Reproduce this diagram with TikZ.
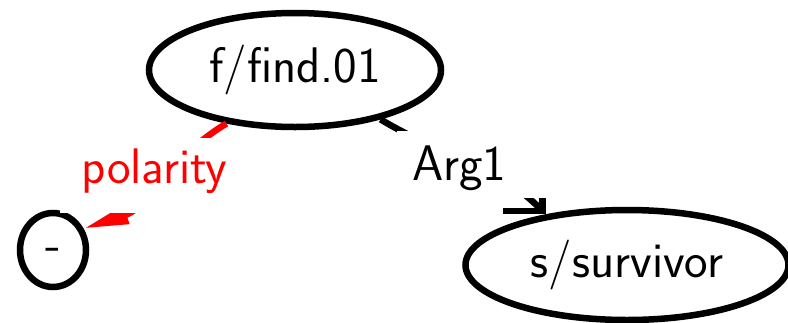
\documentclass[tikz,border=0pt]{standalone}
\usetikzlibrary{arrows.meta,shapes.geometric}
\begin{document}
\begin{tikzpicture}[
  every node/.style={font=\fontsize{50}{60}\selectfont\sffamily},
  amrnode/.style={draw, ellipse, line width=6.5pt, inner sep=0pt, fill=white},
  edgelabel/.style={fill=white, inner xsep=15pt, inner ysep=8pt},
  edgeline/.style={line width=6.5pt},
]
\useasboundingbox (0,0) rectangle (788pt,-322pt);
\node[amrnode, minimum width=292pt, minimum height=114pt] (find) at (295pt,-70pt) {f/find.01};
\node[amrnode, minimum width=66pt, minimum height=74pt, text height=20pt, text depth=0pt] (minus) at (53pt,-250pt) {-};
\node[amrnode, minimum width=323pt, minimum height=110pt] (surv) at (627pt,-265pt) {s/survivor};
\draw[edgeline, red, -{Triangle[length=45pt,width=18pt]}] (find.218) to[out=211,in=18] (minus.35);
\draw[edgeline, -{Straight Barb[length=28pt,width=56pt]}] (find.-30) to[out=-31,in=135] (surv.148);
\node[edgelabel, text=red, anchor=base, inner xsep=22pt, inner ysep=10pt, text height=35pt, text depth=20pt] (pol) at (154.5pt,-183pt) {polarity};
\node[edgelabel, anchor=base west, text width=130pt, align=left, text height=41pt, text depth=10pt] (arg) at (397pt,-180pt) {Arg1};
\end{tikzpicture}
\end{document}
